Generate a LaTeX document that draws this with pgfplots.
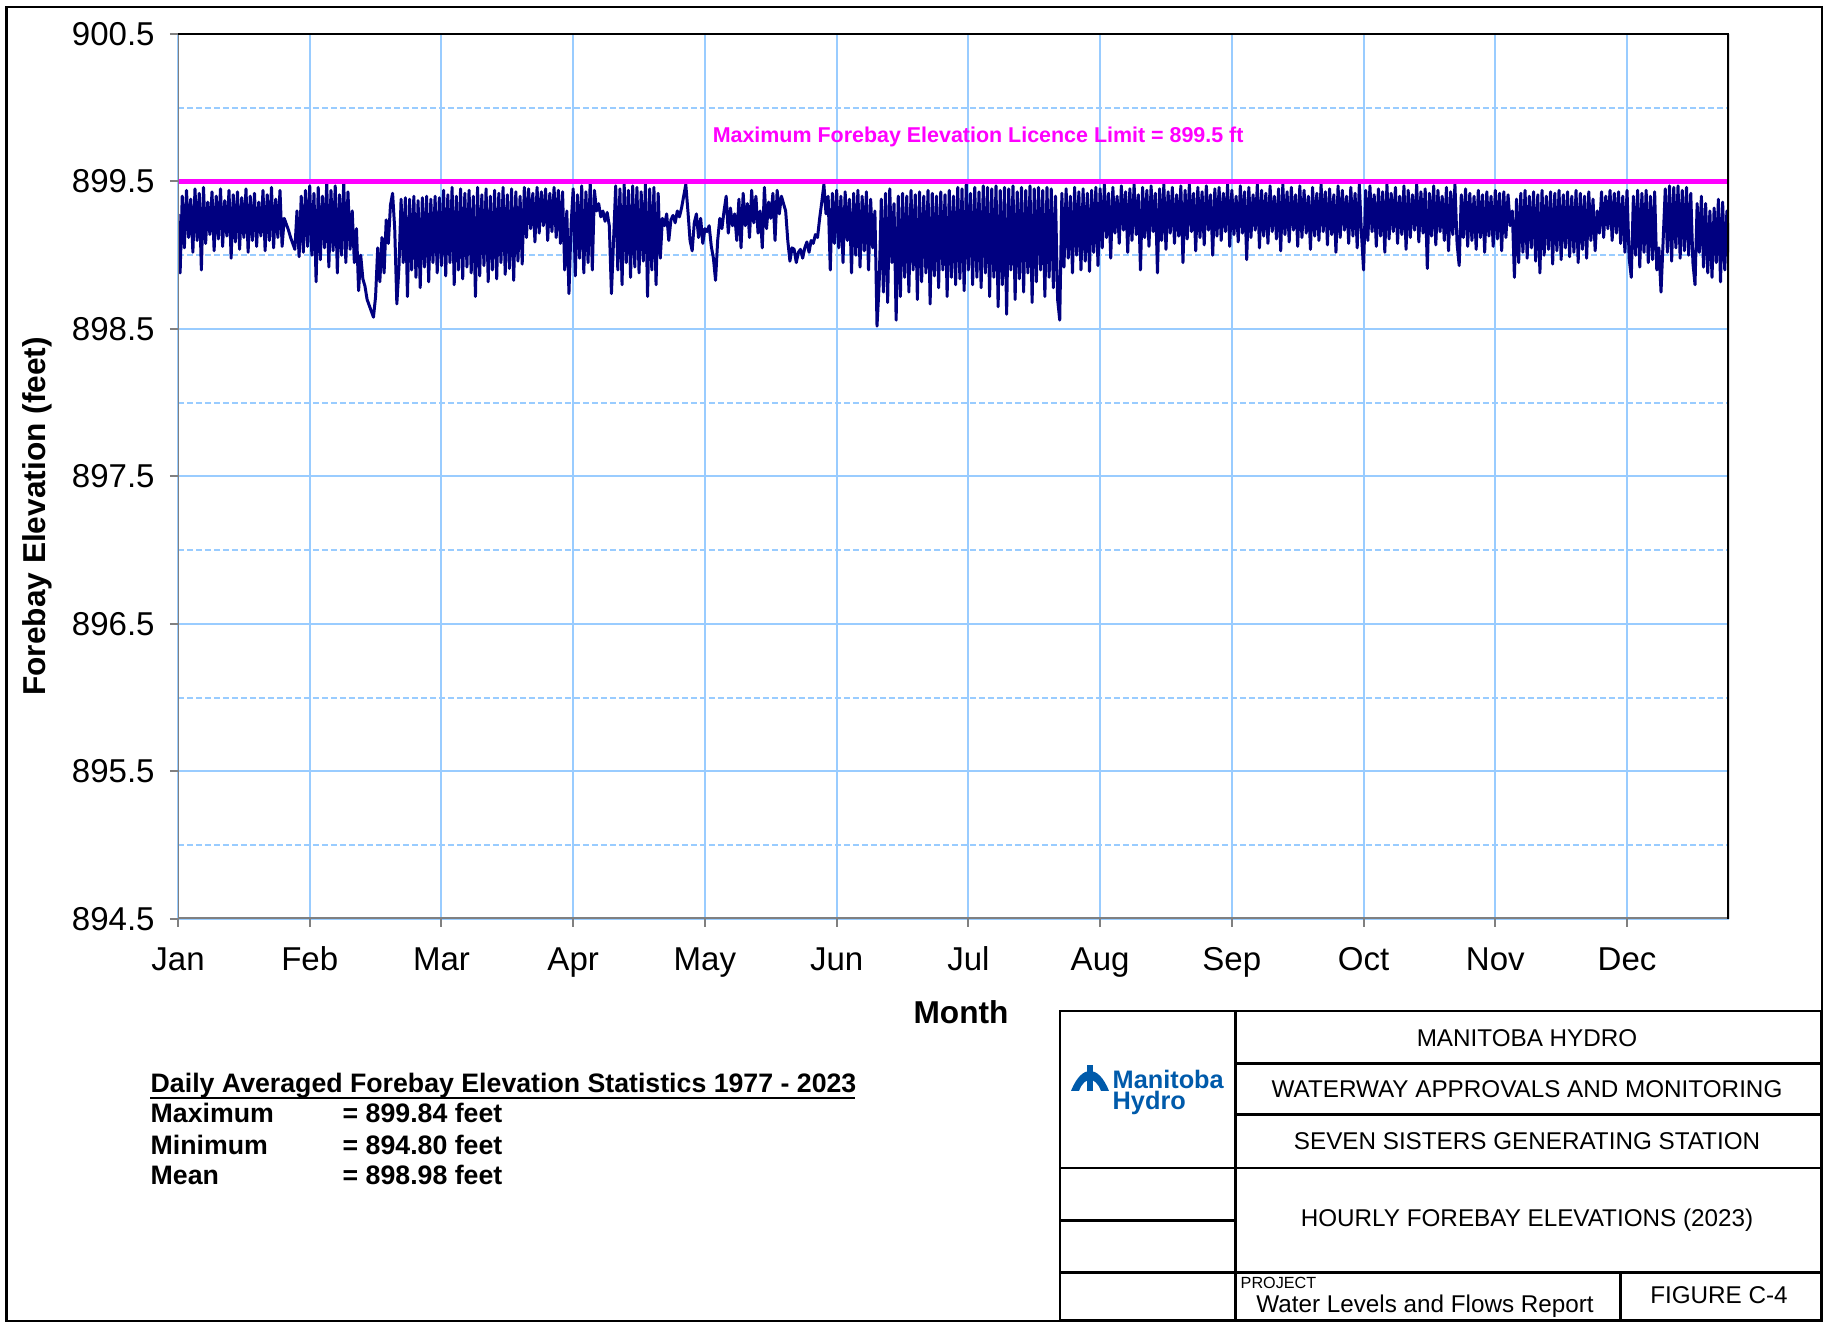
\documentclass[border=0pt]{standalone}
\usepackage{fontspec}
\setmainfont{Liberation Sans}
\usepackage{pgfplots}
\pgfplotsset{compat=1.18}
\definecolor{gridblue}{RGB}{153,204,255}
\definecolor{navyline}{RGB}{0,0,128}
\definecolor{mag}{RGB}{255,0,255}
\definecolor{mhblue}{RGB}{0,90,170}
\definecolor{axgray}{RGB}{128,128,128}
\begin{document}
\begin{tikzpicture}
\useasboundingbox (0,0) rectangle (18.24,13.23);
\draw[line width=0.025cm] (0.065,0.02) rectangle (18.22,13.16);
\begin{axis}[
  scale only axis, width=15.51cm, height=8.85cm,
  anchor=south west, at={(1.78cm,4.04cm)},
  xmin=0, xmax=730, ymin=894.5, ymax=900.5,
  xtick={0,62,124,186,248,310,372,434,496,558,620,682},
  xticklabels={Jan,Feb,Mar,Apr,May,Jun,Jul,Aug,Sep,Oct,Nov,Dec},
  ytick={894.5,895.5,896.5,897.5,898.5,899.5,900.5},
  yticklabels={894.5,895.5,896.5,897.5,898.5,899.5,900.5},
  minor ytick={895,896,897,898,899,900},
  xmajorgrids, ymajorgrids, yminorgrids,
  major grid style={gridblue, line width=0.02cm},
  minor grid style={gridblue, line width=0.02cm, dash pattern=on 0.06cm off 0.03cm},
  axis line style={draw=none},
  tick align=outside, xtick pos=bottom, ytick pos=left,
  major tick length=0.08cm, minor tick length=0pt,
  tick style={axgray, line width=0.02cm},
  ticklabel style={font=\fontsize{9.4}{10}\selectfont},
  xticklabel style={yshift=-0.06cm, text height=0.72em, text depth=0.21em},
  yticklabel style={xshift=-0.03cm},
]
\addplot[navyline, line width=0.85pt, mark=none, line join=round] coordinates {
(0,899.28)(1,898.88)(2,899.40)(3,899.05)(4,899.44)(5,899.12)(6,899.38)(7,899.02)(8,899.45)(9,899.10)
(10,899.42)(11,898.90)(12,899.46)(13,899.08)(14,899.36)(15,899.14)(16,899.43)(17,899.03)(18,899.40)(19,899.11)
(20,899.45)(21,899.06)(22,899.37)(23,899.13)(24,899.44)(25,898.98)(26,899.41)(27,899.09)(28,899.43)(29,899.04)
(30,899.39)(31,899.12)(32,899.45)(33,899.02)(34,899.40)(35,899.10)(36,899.42)(37,899.06)(38,899.36)(39,899.13)
(40,899.44)(41,899.03)(42,899.41)(43,899.10)(44,899.46)(45,899.05)(46,899.38)(47,899.12)(48,899.44)(49,899.06)
(50,899.25)(51,899.21)(52,899.17)(53,899.12)(54,899.08)(55,899.04)(56,899.30)(57,898.99)(58,899.40)(59,899.02)
(60,899.44)(61,899.06)(62,899.47)(63,899.00)(64,899.42)(65,898.82)(66,899.46)(67,898.97)(68,899.40)(69,899.05)
(70,899.49)(71,898.92)(72,899.44)(73,899.03)(74,899.47)(75,898.88)(76,899.41)(77,899.00)(78,899.50)(79,898.95)
(80,899.43)(81,899.04)(82,899.30)(83,898.95)(84,899.18)(85,898.76)(86,899.00)(87,898.84)(88,898.79)(89,898.70)
(90,898.66)(91,898.62)(92,898.58)(93,898.72)(94,899.05)(95,898.82)(96,899.12)(97,898.88)(98,899.24)(99,899.08)
(100,899.34)(101,899.42)(102,899.18)(103,898.67)(104,898.92)(105,899.38)(106,898.95)(107,899.39)(108,898.72)(109,899.38)
(110,898.90)(111,899.40)(112,898.85)(113,899.37)(114,898.78)(115,899.39)(116,898.92)(117,899.40)(118,898.82)(119,899.38)
(120,898.95)(121,899.40)(122,898.88)(123,899.39)(124,898.93)(125,899.44)(126,898.86)(127,899.41)(128,898.95)(129,899.46)
(130,898.80)(131,899.40)(132,898.90)(133,899.45)(134,898.84)(135,899.42)(136,898.92)(137,899.44)(138,898.88)(139,899.40)
(140,898.72)(141,899.46)(142,898.86)(143,899.41)(144,898.93)(145,899.45)(146,898.82)(147,899.40)(148,898.90)(149,899.44)
(150,898.84)(151,899.42)(152,898.95)(153,899.46)(154,898.87)(155,899.41)(156,898.91)(157,899.45)(158,898.83)(159,899.43)
(160,898.96)(161,899.40)(162,898.94)(163,899.46)(164,899.12)(165,899.45)(166,899.18)(167,899.42)(168,899.09)(169,899.46)
(170,899.15)(171,899.43)(172,899.20)(173,899.45)(174,899.10)(175,899.42)(176,899.16)(177,899.46)(178,899.12)(179,899.44)
(180,899.08)(181,899.43)(182,898.90)(183,899.30)(184,898.74)(185,899.20)(186,899.45)(187,898.86)(188,899.41)(189,898.98)
(190,899.47)(191,898.88)(192,899.43)(193,898.95)(194,899.50)(195,898.90)(196,899.44)(197,899.30)(198,899.35)(199,899.26)
(200,899.30)(201,899.23)(202,899.29)(203,899.20)(204,898.74)(205,899.10)(206,899.47)(207,898.90)(208,899.45)(209,898.80)
(210,899.48)(211,898.95)(212,899.44)(213,898.85)(214,899.47)(215,898.92)(216,899.46)(217,898.88)(218,899.43)(219,898.96)
(220,899.48)(221,898.72)(222,899.45)(223,898.90)(224,899.46)(225,898.80)(226,899.42)(227,898.98)(228,899.25)(229,899.20)
(230,899.28)(231,899.10)(232,899.24)(233,899.27)(234,899.22)(235,899.30)(236,899.26)(237,899.32)(238,899.40)(239,899.48)
(240,899.30)(241,899.10)(242,899.03)(243,899.22)(244,899.28)(245,899.12)(246,899.25)(247,899.08)(248,899.18)(249,899.16)
(250,899.20)(251,899.06)(252,898.98)(253,898.83)(254,899.10)(255,899.25)(256,899.18)(257,899.30)(258,899.40)(259,899.15)
(260,899.32)(261,899.20)(262,899.28)(263,899.10)(264,899.38)(265,899.05)(266,899.42)(267,899.20)(268,899.35)(269,899.12)
(270,899.44)(271,899.22)(272,899.40)(273,899.15)(274,899.30)(275,899.05)(276,899.46)(277,899.18)(278,899.36)(279,899.25)
(280,899.42)(281,899.10)(282,899.44)(283,899.28)(284,899.40)(285,899.35)(286,899.30)(287,899.10)(288,898.96)(289,899.05)
(290,899.04)(291,898.95)(292,899.02)(293,899.04)(294,898.98)(295,899.05)(296,899.09)(297,899.02)(298,899.10)(299,899.08)
(300,899.14)(301,899.12)(302,899.25)(303,899.36)(304,899.48)(305,899.28)(306,899.40)(307,898.90)(308,899.42)(309,899.08)
(310,899.44)(311,899.05)(312,899.40)(313,898.95)(314,899.43)(315,899.10)(316,899.38)(317,898.88)(318,899.42)(319,899.00)
(320,899.44)(321,898.92)(322,899.40)(323,899.03)(324,899.43)(325,898.90)(326,899.38)(327,899.05)(328,899.30)(329,898.52)
(330,898.80)(331,899.38)(332,898.75)(333,899.42)(334,898.68)(335,899.45)(336,898.95)(337,899.35)(338,898.56)(339,899.40)
(340,898.72)(341,899.42)(342,898.85)(343,899.40)(344,898.75)(345,899.44)(346,898.90)(347,899.41)(348,898.70)(349,899.43)
(350,898.82)(351,899.40)(352,898.88)(353,899.44)(354,898.67)(355,899.42)(356,898.86)(357,899.40)(358,898.78)(359,899.43)
(360,898.90)(361,899.41)(362,898.72)(363,899.44)(364,898.85)(365,899.40)(366,898.80)(367,899.46)(368,898.84)(369,899.45)
(370,898.76)(371,899.48)(372,898.90)(373,899.42)(374,898.80)(375,899.46)(376,898.85)(377,899.43)(378,898.78)(379,899.47)
(380,898.88)(381,899.46)(382,898.72)(383,899.45)(384,898.85)(385,899.47)(386,898.65)(387,899.44)(388,898.80)(389,899.46)
(390,898.60)(391,899.45)(392,898.90)(393,899.47)(394,898.70)(395,899.43)(396,898.84)(397,899.46)(398,898.75)(399,899.44)
(400,898.88)(401,899.47)(402,898.68)(403,899.45)(404,898.82)(405,899.46)(406,898.90)(407,899.44)(408,898.72)(409,899.46)
(410,898.85)(411,899.45)(412,898.78)(413,899.40)(414,898.70)(415,898.56)(416,899.42)(417,898.92)(418,899.45)(419,898.98)
(420,899.40)(421,898.88)(422,899.46)(423,899.00)(424,899.43)(425,898.90)(426,899.45)(427,898.96)(428,899.42)(429,898.89)
(430,899.44)(431,899.02)(432,899.46)(433,898.93)(434,899.45)(435,899.05)(436,899.48)(437,899.12)(438,899.42)(439,898.98)
(440,899.46)(441,899.15)(442,899.40)(443,899.08)(444,899.47)(445,899.17)(446,899.43)(447,899.02)(448,899.45)(449,899.10)
(450,899.48)(451,899.14)(452,899.41)(453,898.90)(454,899.46)(455,899.12)(456,899.44)(457,899.06)(458,899.47)(459,899.16)
(460,899.42)(461,898.88)(462,899.45)(463,899.10)(464,899.48)(465,899.04)(466,899.43)(467,899.15)(468,899.46)(469,899.08)
(470,899.41)(471,899.13)(472,899.47)(473,898.95)(474,899.44)(475,899.11)(476,899.48)(477,899.16)(478,899.42)(479,899.03)
(480,899.46)(481,899.12)(482,899.43)(483,899.07)(484,899.47)(485,899.17)(486,899.41)(487,899.00)(488,899.45)(489,899.13)
(490,899.46)(491,899.10)(492,899.42)(493,899.16)(494,899.48)(495,899.06)(496,899.44)(497,899.14)(498,899.40)(499,899.09)
(500,899.47)(501,899.15)(502,899.43)(503,898.97)(504,899.46)(505,899.12)(506,899.41)(507,899.17)(508,899.48)(509,899.05)
(510,899.44)(511,899.13)(512,899.42)(513,899.08)(514,899.47)(515,899.16)(516,899.40)(517,899.11)(518,899.45)(519,899.03)
(520,899.48)(521,899.14)(522,899.43)(523,899.09)(524,899.46)(525,899.17)(526,899.41)(527,899.06)(528,899.47)(529,899.12)
(530,899.44)(531,899.15)(532,899.40)(533,899.04)(534,899.46)(535,899.13)(536,899.42)(537,899.10)(538,899.48)(539,899.16)
(540,899.43)(541,899.07)(542,899.45)(543,899.14)(544,899.41)(545,899.02)(546,899.47)(547,899.12)(548,899.44)(549,899.17)
(550,899.40)(551,899.08)(552,899.46)(553,899.13)(554,899.42)(555,899.05)(556,899.48)(557,899.15)(558,898.90)(559,899.44)
(560,899.10)(561,899.47)(562,899.16)(563,899.41)(564,899.06)(565,899.45)(566,899.13)(567,899.43)(568,899.02)(569,899.48)
(570,899.11)(571,899.42)(572,899.16)(573,899.46)(574,899.08)(575,899.40)(576,899.14)(577,899.47)(578,899.04)(579,899.44)
(580,899.12)(581,899.41)(582,899.17)(583,899.48)(584,899.09)(585,899.43)(586,899.15)(587,899.45)(588,898.91)(589,899.42)
(590,899.13)(591,899.47)(592,899.07)(593,899.44)(594,899.16)(595,899.40)(596,899.10)(597,899.46)(598,899.03)(599,899.43)
(600,899.14)(601,899.48)(602,899.08)(603,898.93)(604,899.41)(605,899.12)(606,899.45)(607,899.06)(608,899.42)(609,899.10)
(610,899.40)(611,899.04)(612,899.44)(613,899.12)(614,899.41)(615,899.02)(616,899.43)(617,899.13)(618,899.40)(619,899.06)
(620,899.44)(621,899.11)(622,899.42)(623,899.03)(624,899.43)(625,899.12)(626,899.41)(627,899.20)(628,899.30)(629,898.85)
(630,899.38)(631,898.95)(632,899.42)(633,899.02)(634,899.44)(635,898.98)(636,899.40)(637,899.05)(638,899.43)(639,898.96)
(640,899.41)(641,898.88)(642,899.44)(643,899.00)(644,899.40)(645,899.04)(646,899.43)(647,898.94)(648,899.42)(649,899.03)
(650,899.44)(651,898.97)(652,899.41)(653,899.05)(654,899.43)(655,898.99)(656,899.40)(657,899.02)(658,899.44)(659,898.95)
(660,899.42)(661,899.04)(662,899.40)(663,898.98)(664,899.43)(665,899.10)(666,899.38)(667,899.03)(668,899.30)(669,899.15)
(670,899.43)(671,899.12)(672,899.40)(673,899.18)(674,899.44)(675,899.10)(676,899.42)(677,899.15)(678,899.43)(679,899.08)
(680,899.40)(681,899.02)(682,899.44)(683,898.98)(684,898.85)(685,899.40)(686,899.00)(687,899.44)(688,898.92)(689,899.42)
(690,899.02)(691,899.44)(692,898.95)(693,899.40)(694,898.97)(695,899.43)(696,898.90)(697,899.05)(698,898.75)(699,899.10)
(700,899.45)(701,899.02)(702,899.47)(703,898.96)(704,899.46)(705,899.05)(706,899.47)(707,898.98)(708,899.44)(709,899.03)
(710,899.46)(711,899.00)(712,899.42)(713,898.95)(714,898.80)(715,899.35)(716,899.02)(717,899.40)(718,898.92)(719,899.35)
(720,898.88)(721,899.30)(722,898.85)(723,899.32)(724,898.95)(725,899.38)(726,898.82)(727,899.36)(728,898.90)(729,899.30)
(730,899.02)
};
\addplot[mag, line width=0.05cm, mark=none] coordinates {(0,899.5) (730,899.5)};
\node[mag, font=\bfseries\fontsize{6.1}{7}\selectfont] at (axis cs:376.6,899.805) {Maximum Forebay Elevation Licence Limit = 899.5 ft};
\draw[axgray, line width=0.045cm] (rel axis cs:0,0) -- (rel axis cs:1,0);
\draw[axgray, line width=0.02cm] (rel axis cs:0,0) -- (rel axis cs:0,1);
\draw[black, line width=0.025cm] (rel axis cs:0,1) -- (rel axis cs:1,1);
\draw[black, line width=0.035cm] (rel axis cs:1,0) -- (rel axis cs:1,1);
\end{axis}
% axis labels
\node[font=\bfseries\fontsize{9}{10}\selectfont] at (9.61,3.11) {Month};
\node[font=\bfseries\fontsize{9}{10}\selectfont, rotate=90] at (0.37,8.065) {Forebay Elevation (feet)};
% statistics
\node[anchor=west, inner sep=0, font=\bfseries\fontsize{7.6}{9}\selectfont] at (1.50,2.376) {Daily Averaged Forebay Elevation Statistics 1977 - 2023};
\draw[line width=0.02cm] (1.50,2.245) -- (8.55,2.245);
\node[anchor=west, inner sep=0, font=\bfseries\fontsize{7.6}{9}\selectfont] at (1.50,2.097) {Maximum};
\node[anchor=west, inner sep=0, font=\bfseries\fontsize{7.6}{9}\selectfont] at (3.42,2.097) {= 899.84 feet};
\node[anchor=west, inner sep=0, font=\bfseries\fontsize{7.6}{9}\selectfont] at (1.50,1.783) {Minimum};
\node[anchor=west, inner sep=0, font=\bfseries\fontsize{7.6}{9}\selectfont] at (3.42,1.783) {= 894.80 feet};
\node[anchor=west, inner sep=0, font=\bfseries\fontsize{7.6}{9}\selectfont] at (1.50,1.48) {Mean};
\node[anchor=west, inner sep=0, font=\bfseries\fontsize{7.6}{9}\selectfont] at (3.42,1.48) {= 898.98 feet};
% title block
\begin{scope}[line width=0.025cm]
\draw (10.598,0.026) rectangle (18.217,3.121);
\draw (12.354,0.026) -- (12.354,3.121);
\draw (12.354,2.597) -- (18.217,2.597);
\draw (12.354,2.086) -- (18.217,2.086);
\draw (10.598,1.551) -- (18.217,1.551);
\draw (10.598,1.027) -- (12.354,1.027);
\draw (10.598,0.504) -- (18.217,0.504);
\draw (16.205,0.026) -- (16.205,0.504);
\end{scope}
\begin{scope}[font=\fontsize{6.9}{8}\selectfont]
\node at (15.27,2.853) {MANITOBA HYDRO};
\node at (15.27,2.341) {WATERWAY APPROVALS AND MONITORING};
\node at (15.27,1.82) {SEVEN SISTERS GENERATING STATION};
\node at (15.27,1.027) {HOURLY FOREBAY ELEVATIONS (2023)};
\node at (14.25,0.17) {Water Levels and Flows Report};
\node at (17.19,0.28) {FIGURE C-4};
\end{scope}
\node[anchor=west, inner sep=0, font=\fontsize{4.6}{5}\selectfont] at (12.40,0.40) {PROJECT};
% logo
\fill[mhblue] (10.71,2.32) .. controls (10.77,2.47) and (10.84,2.52) .. (10.90,2.52) .. controls (10.96,2.52) and (11.03,2.47) .. (11.09,2.32) -- (11.01,2.32) .. controls (10.98,2.40) and (10.94,2.43) .. (10.90,2.43) .. controls (10.86,2.43) and (10.82,2.40) .. (10.79,2.32) -- cycle;
\fill[mhblue] (10.87,2.32) rectangle (10.93,2.58);
\node[anchor=west, inner sep=0, mhblue, font=\bfseries\fontsize{7.2}{8}\selectfont] at (11.12,2.435) {Manitoba};
\node[anchor=west, inner sep=0, mhblue, font=\bfseries\fontsize{7.2}{8}\selectfont] at (11.12,2.205) {Hydro};
\end{tikzpicture}
\end{document}
